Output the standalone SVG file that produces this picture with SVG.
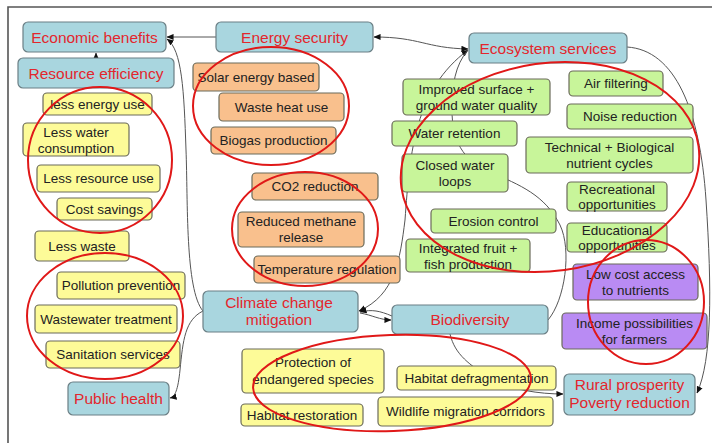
<svg xmlns="http://www.w3.org/2000/svg" width="712" height="443" viewBox="0 0 712 443">
<defs>
<marker id="ah" viewBox="0 0 8 8" refX="7.5" refY="4" markerWidth="7" markerHeight="7" orient="auto-start-reverse" markerUnits="userSpaceOnUse">
<path d="M0,0.5 L8,4 L0,7.5 z" fill="#111"/>
</marker>
</defs>
<style>
.fr{fill:none;stroke:#555;stroke-width:1.6}
.c{fill:none;stroke:#555;stroke-width:1}
.n rect{stroke:#6b6b5a;stroke-width:1.2}
.b rect{fill:#a9d6df;stroke:#6b7f85}
.y rect{fill:#fdfb98}
.o rect{fill:#f9c08d}
.g rect{fill:#c8f59a}
.p rect{fill:#b98bf3}
.n text{font-family:"Liberation Sans",Arial,sans-serif;font-size:13.5px;fill:#222;text-anchor:middle}
.b text{font-size:15.5px;fill:#e3262d}
.e{fill:none;stroke:#e01818;stroke-width:2}
</style>
<path class="fr" d="M8,443 L8,7 L712,7"/>
<g id="connectors">
<path class="c" d="M216,37 L167,37" marker-end="url(#ah)"/>
<path class="c" d="M96,58 L96,53" marker-end="url(#ah)"/>
<path class="c" d="M374,37 C420,37 425,48 468,49" marker-start="url(#ah)" marker-end="url(#ah)"/>
<path class="c" d="M359,311 C395,295 400,260 405,220 C410,150 415,90 468,50" marker-start="url(#ah)" marker-end="url(#ah)"/>
<path class="c" d="M548,320 C565,300 572,250 560,225 C545,195 520,185 490,172 C462,160 452,140 452,110 C452,85 455,65 468,50"/>
<path class="c" d="M392,316 C380,311 372,309 360,312" marker-end="url(#ah)"/>
<path class="c" d="M360,313 C372,315 380,320 391,320" marker-end="url(#ah)"/>
<path class="c" d="M203,311 C185,290 188,200 186,150 C184,90 182,50 167,39" marker-end="url(#ah)"/>
<path class="c" d="M203,311 C185,320 183,340 180,370 C178,390 175,397 170,398" marker-end="url(#ah)"/>
<path class="c" d="M627,47 C675,50 700,110 706,200 C712,290 712,360 697,393" marker-end="url(#ah)"/>
<path class="c" d="M450,334 C455,355 470,365 490,378 C510,390 540,394 563,394" marker-end="url(#ah)"/>
</g>
<g id="econ" class="n b"><rect x="23" y="22" width="143" height="30" rx="5"/><text x="94.5" y="42.5">Economic benefits</text></g>
<g id="resource" class="n b"><rect x="18" y="58" width="156" height="30" rx="5"/><text x="96" y="78.5">Resource efficiency</text></g>
<g id="energy" class="n b"><rect x="216" y="22" width="157" height="30" rx="5"/><text x="294.5" y="42.5">Energy security</text></g>
<g id="eco" class="n b"><rect x="469" y="33" width="158" height="30" rx="5"/><text x="548" y="53.5">Ecosystem services</text></g>
<g id="climate" class="n b"><rect x="203" y="291" width="155" height="41" rx="5"/><text x="279" y="308">Climate change</text><text x="279" y="325">mitigation</text></g>
<g id="biodiv" class="n b"><rect x="392" y="305" width="156" height="29" rx="5"/><text x="470" y="325">Biodiversity</text></g>
<g id="health" class="n b"><rect x="68" y="382" width="101" height="33" rx="5"/><text x="118.5" y="404">Public health</text></g>
<g id="rural" class="n b"><rect x="564" y="374" width="131" height="41" rx="5"/><text x="629.5" y="390">Rural prosperity</text><text x="629.5" y="408">Poverty reduction</text></g>
<g id="lessenergy" class="n y"><rect x="43" y="93" width="109" height="22" rx="4"/><text x="97.5" y="108.5">less energy use</text></g>
<g id="lesswater" class="n y"><rect x="23" y="123" width="106" height="33" rx="4"/><text x="76" y="137">Less water</text><text x="76" y="153">consumption</text></g>
<g id="lessresource" class="n y"><rect x="37" y="165" width="123" height="27" rx="4"/><text x="98.5" y="183">Less resource use</text></g>
<g id="cost" class="n y"><rect x="57" y="198" width="95" height="22" rx="4"/><text x="104.5" y="213.5">Cost savings</text></g>
<g id="lesswaste" class="n y"><rect x="35" y="231" width="94" height="30" rx="4"/><text x="82" y="250.5">Less waste</text></g>
<g id="pollution" class="n y"><rect x="57" y="272" width="128" height="27" rx="4"/><text x="121" y="290">Pollution prevention</text></g>
<g id="wastewater" class="n y"><rect x="35" y="305" width="142" height="28" rx="4"/><text x="106" y="323.5">Wastewater treatment</text></g>
<g id="sanitation" class="n y"><rect x="46" y="341" width="134" height="27" rx="4"/><text x="113" y="359">Sanitation services</text></g>
<g id="protection" class="n y"><rect x="242" y="349" width="142" height="44" rx="4"/><text x="313" y="367">Protection of</text><text x="313" y="384">endangered species</text></g>
<g id="defrag" class="n y"><rect x="397" y="366" width="159" height="24" rx="4"/><text x="476.5" y="382.5">Habitat defragmentation</text></g>
<g id="restoration" class="n y"><rect x="241" y="404" width="122" height="22" rx="4"/><text x="302" y="419.5">Habitat restoration</text></g>
<g id="wildlife" class="n y"><rect x="378" y="397" width="175" height="29" rx="4"/><text x="465.5" y="416">Wildlife migration corridors</text></g>
<g id="solar" class="n o"><rect x="193" y="63" width="126" height="28" rx="4"/><text x="256" y="81.5">Solar energy based</text></g>
<g id="wasteheat" class="n o"><rect x="219" y="93" width="125" height="28" rx="4"/><text x="281.5" y="111.5">Waste heat use</text></g>
<g id="biogas" class="n o"><rect x="211" y="127" width="125" height="27" rx="4"/><text x="273.5" y="145">Biogas production</text></g>
<g id="co2" class="n o"><rect x="252" y="173" width="126" height="27" rx="4"/><text x="315" y="191">CO2 reduction</text></g>
<g id="methane" class="n o"><rect x="238" y="212" width="126" height="35" rx="4"/><text x="301" y="226">Reduced methane</text><text x="301" y="242">release</text></g>
<g id="temperature" class="n o"><rect x="254" y="256" width="146" height="27" rx="4"/><text x="327" y="274">Temperature regulation</text></g>
<g id="improved" class="n g"><rect x="403" y="79" width="147" height="36" rx="4"/><text x="476.5" y="94">Improved surface +</text><text x="476.5" y="110">ground water quality</text></g>
<g id="retention" class="n g"><rect x="392" y="121" width="125" height="25" rx="4"/><text x="454.5" y="138">Water retention</text></g>
<g id="air" class="n g"><rect x="569" y="71" width="94" height="25" rx="4"/><text x="616" y="88">Air filtering</text></g>
<g id="noise" class="n g"><rect x="567" y="104" width="126" height="25" rx="4"/><text x="630" y="121">Noise reduction</text></g>
<g id="nutrient" class="n g"><rect x="526" y="137" width="167" height="36" rx="4"/><text x="609.5" y="152">Technical + Biological</text><text x="609.5" y="168">nutrient cycles</text></g>
<g id="closed" class="n g"><rect x="402" y="154" width="106" height="38" rx="4"/><text x="455" y="170">Closed water</text><text x="455" y="186">loops</text></g>
<g id="recreational" class="n g"><rect x="567" y="182" width="100" height="29" rx="4"/><text x="617" y="194">Recreational</text><text x="617" y="209">opportunities</text></g>
<g id="erosion" class="n g"><rect x="431" y="209" width="125" height="24" rx="4"/><text x="493.5" y="225.5">Erosion control</text></g>
<g id="educational" class="n g"><rect x="567" y="223" width="100" height="29" rx="4"/><text x="617" y="235">Educational</text><text x="617" y="250">opportunities</text></g>
<g id="integrated" class="n g"><rect x="406" y="239" width="124" height="33" rx="4"/><text x="468" y="253">Integrated fruit +</text><text x="468" y="269">fish production</text></g>
<g id="lowcost" class="n p"><rect x="573" y="264" width="125" height="36" rx="4"/><text x="635.5" y="279">Low cost access</text><text x="635.5" y="295">to nutrients</text></g>
<g id="income" class="n p"><rect x="562" y="313" width="145" height="36" rx="4"/><text x="634.5" y="328">Income possibilities</text><text x="634.5" y="344">for farmers</text></g>
<g id="groups">
<ellipse class="e" cx="100" cy="160" rx="72" ry="73"/>
<ellipse class="e" cx="271" cy="106" rx="78" ry="59"/>
<ellipse class="e" cx="305" cy="229" rx="73" ry="57"/>
<ellipse class="e" cx="105" cy="316" rx="78" ry="63"/>
<ellipse class="e" cx="550" cy="167" rx="150" ry="104" transform="rotate(-8 550 167)"/>
<ellipse class="e" cx="646" cy="302" rx="58" ry="62"/>
<ellipse class="e" cx="392" cy="383" rx="139" ry="48" transform="rotate(-2 392 383)"/>
</g>
</svg>
